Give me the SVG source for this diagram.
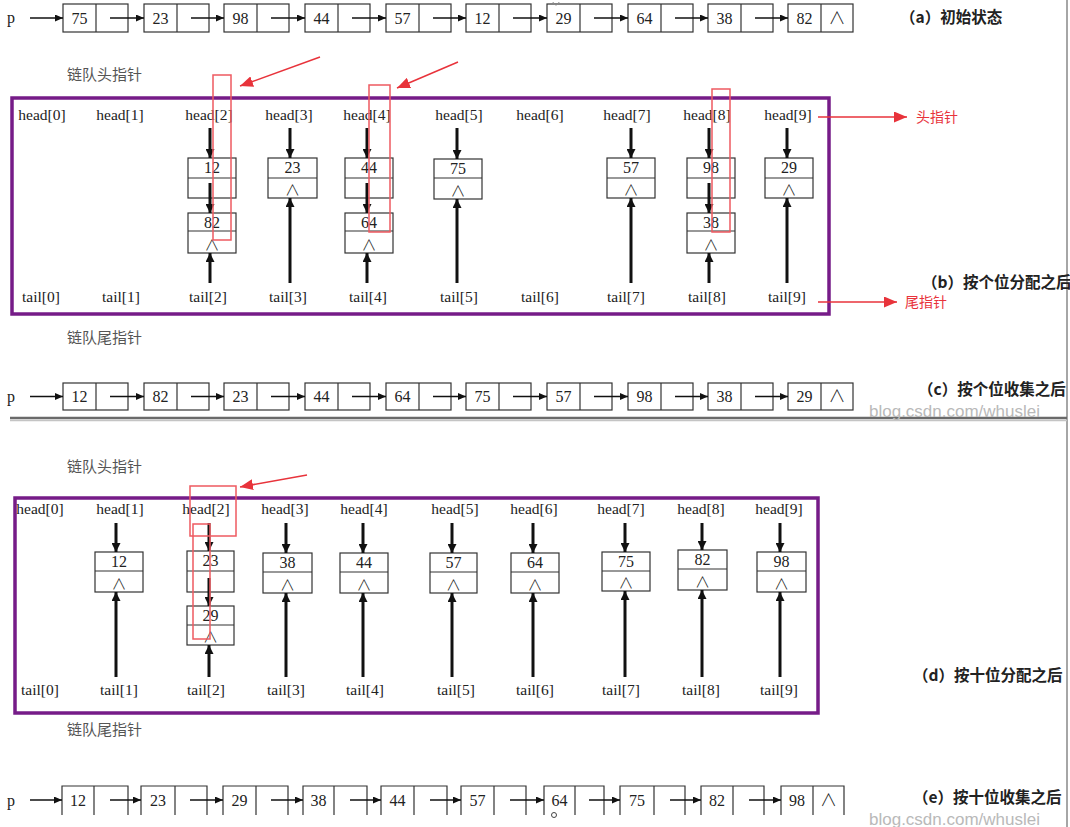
<svg xmlns="http://www.w3.org/2000/svg" width="1070" height="827" viewBox="0 0 1070 827">
<defs>
<style>
.bx{fill:none;stroke:#333;stroke-width:1.2}
.num{font-family:'Liberation Serif','Noto Sans CJK SC',serif;font-size:16px;fill:#222;text-anchor:middle}
.nil{font-family:'Noto Sans CJK SC','DejaVu Sans',sans-serif;font-size:15px;font-weight:300;fill:#222;text-anchor:middle}
.nilr{font-family:'Noto Sans CJK SC','DejaVu Sans',sans-serif;font-size:17px;font-weight:300;fill:#222;text-anchor:middle}
.lbl{font-family:'Liberation Serif','Noto Sans CJK SC',serif;font-size:15.5px;fill:#222;text-anchor:middle}
.cn{font-family:'Noto Sans CJK SC',sans-serif;font-size:15px;fill:#555}
.cap{font-family:'Noto Sans CJK SC',sans-serif;font-size:15.5px;font-weight:bold;fill:#222}
.red{font-family:'Noto Sans CJK SC',sans-serif;font-size:14px;fill:#e8333b}
.wm{font-family:'Liberation Sans','DejaVu Sans',sans-serif;font-size:17px;fill:#b9b9b9}
.ra{stroke:#111;stroke-width:1.5;fill:none;marker-end:url(#ah)}
.ta{stroke:#111;stroke-width:3;fill:none;marker-end:url(#ahb)}
.rr{fill:none;stroke:#ee5a60;stroke-width:1.5}
.rl{stroke:#e8333b;stroke-width:1.5;fill:none;marker-end:url(#ahr)}
.pur{fill:none;stroke:#761c88;stroke-width:3.5}
</style>
<marker id="ah" markerWidth="8" markerHeight="7" refX="8" refY="3.5" orient="auto" markerUnits="userSpaceOnUse"><path d="M0,0 L8,3.5 L0,7 z" fill="#111"/></marker>
<marker id="ahb" markerWidth="9" markerHeight="9" refX="9" refY="4.5" orient="auto" markerUnits="userSpaceOnUse"><path d="M0,0 L9,4.5 L0,9 z" fill="#111"/></marker>
<marker id="ahr" markerWidth="13" markerHeight="11" refX="13" refY="5.5" orient="auto" markerUnits="userSpaceOnUse"><path d="M0,0 L13,5.5 L0,11 z" fill="#e8333b"/></marker>
</defs>
<rect width="1070" height="827" fill="#fff"/>

<!-- frame lines -->
<line x1="1067" y1="0" x2="1067" y2="827" stroke="#888" stroke-width="1.5"/>
<line x1="10" y1="418" x2="1067" y2="418" stroke="#6a6a6a" stroke-width="2.5"/>
<line x1="10" y1="420.5" x2="1067" y2="420.5" stroke="#c4c4c4" stroke-width="1.5"/>

<!-- Row (a) -->
<g id="row-a">
<text class="num" x="11" y="23">p</text>
<g class="bx">
<rect x="63" y="4" width="65" height="28"/><line x1="96" y1="4" x2="96" y2="32"/>
<rect x="144" y="4" width="65" height="28"/><line x1="177" y1="4" x2="177" y2="32"/>
<rect x="224" y="4" width="65" height="28"/><line x1="257" y1="4" x2="257" y2="32"/>
<rect x="305" y="4" width="65" height="28"/><line x1="338" y1="4" x2="338" y2="32"/>
<rect x="386" y="4" width="65" height="28"/><line x1="419" y1="4" x2="419" y2="32"/>
<rect x="466" y="4" width="65" height="28"/><line x1="499" y1="4" x2="499" y2="32"/>
<rect x="547" y="4" width="65" height="28"/><line x1="580" y1="4" x2="580" y2="32"/>
<rect x="628" y="4" width="65" height="28"/><line x1="661" y1="4" x2="661" y2="32"/>
<rect x="708" y="4" width="65" height="28"/><line x1="741" y1="4" x2="741" y2="32"/>
<rect x="788" y="4" width="65" height="28"/><line x1="821" y1="4" x2="821" y2="32"/>
</g>
<text class="num" x="79.5" y="24">75</text>
<text class="num" x="160.5" y="24">23</text>
<text class="num" x="240.5" y="24">98</text>
<text class="num" x="321.5" y="24">44</text>
<text class="num" x="402.5" y="24">57</text>
<text class="num" x="482.5" y="24">12</text>
<text class="num" x="563.5" y="24">29</text>
<text class="num" x="644.5" y="24">64</text>
<text class="num" x="724.5" y="24">38</text>
<text class="num" x="804.5" y="24">82</text>
<text class="nilr" x="837" y="24">∧</text>
<path d="M553,2 a3,3 0 0 0 6,0" fill="none" stroke="#888" stroke-width="1"/>
<text class="cap" x="900" y="23">（a）初始状态</text>
</g>

<!-- Row (c) -->
<g id="row-c">
<text class="num" x="11" y="402">p</text>
<g class="bx">
<rect x="63" y="383" width="65" height="27"/><line x1="96" y1="383" x2="96" y2="410"/>
<rect x="144" y="383" width="65" height="27"/><line x1="177" y1="383" x2="177" y2="410"/>
<rect x="224" y="383" width="65" height="27"/><line x1="257" y1="383" x2="257" y2="410"/>
<rect x="305" y="383" width="65" height="27"/><line x1="338" y1="383" x2="338" y2="410"/>
<rect x="386" y="383" width="65" height="27"/><line x1="419" y1="383" x2="419" y2="410"/>
<rect x="466" y="383" width="65" height="27"/><line x1="499" y1="383" x2="499" y2="410"/>
<rect x="547" y="383" width="65" height="27"/><line x1="580" y1="383" x2="580" y2="410"/>
<rect x="628" y="383" width="65" height="27"/><line x1="661" y1="383" x2="661" y2="410"/>
<rect x="708" y="383" width="65" height="27"/><line x1="741" y1="383" x2="741" y2="410"/>
<rect x="788" y="383" width="65" height="27"/><line x1="821" y1="383" x2="821" y2="410"/>
</g>
<text class="num" x="79.5" y="402">12</text>
<text class="num" x="160.5" y="402">82</text>
<text class="num" x="240.5" y="402">23</text>
<text class="num" x="321.5" y="402">44</text>
<text class="num" x="402.5" y="402">64</text>
<text class="num" x="482.5" y="402">75</text>
<text class="num" x="563.5" y="402">57</text>
<text class="num" x="644.5" y="402">98</text>
<text class="num" x="724.5" y="402">38</text>
<text class="num" x="804.5" y="402">29</text>
<text class="nilr" x="837" y="402">∧</text>
<text class="cap" x="918" y="395">（c）按个位收集之后</text>
<text class="wm" x="869" y="417">blog.csdn.com/whuslei</text>
</g>

<!-- Row (e) -->
<g id="row-e">
<text class="num" x="11" y="806">p</text>
<path class="bx" d="M62,815V786H128V815M94,786V815 M141,815V786H207V815M175,786V815 M223,815V786H288V815M256,786V815 M303,815V786H367V815M334,786V815 M381,815V786H447V815M414,786V815 M461,815V786H526V815M494,786V815 M544,815V786H604V815M575,786V815 M620,815V786H685V815M654,786V815 M701,815V786H764V815M733,786V815 M781,815V786H844V815M813,786V815"/>
<text class="num" x="78" y="806">12</text>
<text class="num" x="158" y="806">23</text>
<text class="num" x="239.5" y="806">29</text>
<text class="num" x="318.5" y="806">38</text>
<text class="num" x="397.5" y="806">44</text>
<text class="num" x="477.5" y="806">57</text>
<text class="num" x="559.5" y="806">64</text>
<text class="num" x="637" y="806">75</text>
<text class="num" x="717" y="806">82</text>
<text class="num" x="797" y="806">98</text>
<text class="nilr" x="828.5" y="806">∧</text>
<circle cx="554" cy="815" r="2.5" fill="none" stroke="#444" stroke-width="1"/>
<text class="cap" x="913" y="803">（e）按十位收集之后</text>
<text class="wm" x="869" y="825">blog.csdn.com/whuslei</text>
</g>

<!-- Section (b) -->
<g id="section-b">
<rect class="pur" x="12" y="98" width="817" height="216"/>
<text class="cn" x="67" y="80">链队头指针</text>
<text class="cn" x="67" y="343">链队尾指针</text>
<g id="b-heads">
<text class="lbl" x="42" y="120">head[0]</text>
<text class="lbl" x="120" y="120">head[1]</text>
<text class="lbl" x="209" y="120">head[2]</text>
<text class="lbl" x="289" y="120">head[3]</text>
<text class="lbl" x="367" y="120">head[4]</text>
<text class="lbl" x="459" y="120">head[5]</text>
<text class="lbl" x="540" y="120">head[6]</text>
<text class="lbl" x="627" y="120">head[7]</text>
<text class="lbl" x="707" y="120">head[8]</text>
<text class="lbl" x="788" y="120">head[9]</text>
</g>
<g id="b-tails">
<text class="lbl" x="41" y="302">tail[0]</text>
<text class="lbl" x="121" y="302">tail[1]</text>
<text class="lbl" x="208" y="302">tail[2]</text>
<text class="lbl" x="288" y="302">tail[3]</text>
<text class="lbl" x="368" y="302">tail[4]</text>
<text class="lbl" x="459" y="302">tail[5]</text>
<text class="lbl" x="540" y="302">tail[6]</text>
<text class="lbl" x="626" y="302">tail[7]</text>
<text class="lbl" x="707" y="302">tail[8]</text>
<text class="lbl" x="787" y="302">tail[9]</text>
</g>
<g id="b-n12"><rect class="bx" x="188" y="158" width="48" height="40"/><line class="bx" x1="188" y1="178" x2="236" y2="178"/><text class="num" x="212" y="173">12</text></g>
<g id="b-n82"><rect class="bx" x="188" y="213" width="48" height="40"/><line class="bx" x1="188" y1="231" x2="236" y2="231"/><text class="num" x="212" y="228">82</text><text class="nil" x="212" y="250">∧</text></g>
<g id="b-n23"><rect class="bx" x="268" y="158" width="49" height="40"/><line class="bx" x1="268" y1="178" x2="317" y2="178"/><text class="num" x="292.5" y="173">23</text><text class="nil" x="292.5" y="195">∧</text></g>
<g id="b-n44"><rect class="bx" x="345" y="158" width="48" height="40"/><line class="bx" x1="345" y1="178" x2="393" y2="178"/><text class="num" x="369" y="173">44</text></g>
<g id="b-n64"><rect class="bx" x="345" y="213" width="48" height="40"/><line class="bx" x1="345" y1="231" x2="393" y2="231"/><text class="num" x="369" y="228">64</text><text class="nil" x="369" y="250">∧</text></g>
<g id="b-n75"><rect class="bx" x="434" y="159" width="48" height="40"/><line class="bx" x1="434" y1="178" x2="482" y2="178"/><text class="num" x="458" y="174">75</text><text class="nil" x="458" y="196">∧</text></g>
<g id="b-n57"><rect class="bx" x="607" y="158" width="48" height="40"/><line class="bx" x1="607" y1="178" x2="655" y2="178"/><text class="num" x="631" y="173">57</text><text class="nil" x="631" y="195">∧</text></g>
<g id="b-n98"><rect class="bx" x="687" y="158" width="48" height="40"/><line class="bx" x1="687" y1="178" x2="735" y2="178"/><text class="num" x="711" y="173">98</text></g>
<g id="b-n38"><rect class="bx" x="687" y="213" width="48" height="40"/><line class="bx" x1="687" y1="231" x2="735" y2="231"/><text class="num" x="711" y="228">38</text><text class="nil" x="711" y="250">∧</text></g>
<g id="b-n29"><rect class="bx" x="765" y="158" width="48" height="40"/><line class="bx" x1="765" y1="178" x2="813" y2="178"/><text class="num" x="789" y="173">29</text><text class="nil" x="789" y="195">∧</text></g>
<text class="cap" x="922" y="288">（b）按个位分配之后</text>
</g>

<!-- Section (d) -->
<g id="section-d">
<rect class="pur" x="15" y="498" width="803" height="215"/>
<text class="cn" x="67" y="472">链队头指针</text>
<text class="cn" x="67" y="735">链队尾指针</text>
<g id="d-heads">
<text class="lbl" x="40" y="514">head[0]</text>
<text class="lbl" x="120" y="514">head[1]</text>
<text class="lbl" x="206" y="514">head[2]</text>
<text class="lbl" x="285" y="514">head[3]</text>
<text class="lbl" x="364" y="514">head[4]</text>
<text class="lbl" x="455" y="514">head[5]</text>
<text class="lbl" x="534" y="514">head[6]</text>
<text class="lbl" x="621" y="514">head[7]</text>
<text class="lbl" x="701" y="514">head[8]</text>
<text class="lbl" x="779" y="514">head[9]</text>
</g>
<g id="d-tails">
<text class="lbl" x="40" y="695">tail[0]</text>
<text class="lbl" x="119" y="695">tail[1]</text>
<text class="lbl" x="206" y="695">tail[2]</text>
<text class="lbl" x="286" y="695">tail[3]</text>
<text class="lbl" x="365" y="695">tail[4]</text>
<text class="lbl" x="456" y="695">tail[5]</text>
<text class="lbl" x="535" y="695">tail[6]</text>
<text class="lbl" x="621" y="695">tail[7]</text>
<text class="lbl" x="701" y="695">tail[8]</text>
<text class="lbl" x="779" y="695">tail[9]</text>
</g>
<g id="d-n12"><rect class="bx" x="95" y="552" width="48" height="40"/><line class="bx" x1="95" y1="571" x2="143" y2="571"/><text class="num" x="119" y="567">12</text><text class="nil" x="119" y="589">∧</text></g>
<g id="d-n23"><rect class="bx" x="187" y="551" width="47" height="41"/><line class="bx" x1="187" y1="571" x2="234" y2="571"/><text class="num" x="210.5" y="566">23</text></g>
<g id="d-n29"><rect class="bx" x="187" y="606" width="47" height="39"/><line class="bx" x1="187" y1="625" x2="234" y2="625"/><text class="num" x="210.5" y="621">29</text><text class="nil" x="210.5" y="642">∧</text></g>
<g id="d-n38"><rect class="bx" x="263" y="553" width="49" height="40"/><line class="bx" x1="263" y1="572" x2="312" y2="572"/><text class="num" x="287.5" y="568">38</text><text class="nil" x="287.5" y="590">∧</text></g>
<g id="d-n44"><rect class="bx" x="340" y="553" width="48" height="40"/><line class="bx" x1="340" y1="572" x2="388" y2="572"/><text class="num" x="364" y="568">44</text><text class="nil" x="364" y="590">∧</text></g>
<g id="d-n57"><rect class="bx" x="430" y="553" width="47" height="40"/><line class="bx" x1="430" y1="572" x2="477" y2="572"/><text class="num" x="453.5" y="568">57</text><text class="nil" x="453.5" y="590">∧</text></g>
<g id="d-n64"><rect class="bx" x="511" y="553" width="48" height="40"/><line class="bx" x1="511" y1="572" x2="559" y2="572"/><text class="num" x="535" y="568">64</text><text class="nil" x="535" y="590">∧</text></g>
<g id="d-n75"><rect class="bx" x="602" y="552" width="48" height="39"/><line class="bx" x1="602" y1="571" x2="650" y2="571"/><text class="num" x="626" y="567">75</text><text class="nil" x="626" y="588">∧</text></g>
<g id="d-n82"><rect class="bx" x="678" y="550" width="49" height="40"/><line class="bx" x1="678" y1="569" x2="727" y2="569"/><text class="num" x="702.5" y="565">82</text><text class="nil" x="702.5" y="587">∧</text></g>
<g id="d-n98"><rect class="bx" x="757" y="552" width="49" height="40"/><line class="bx" x1="757" y1="571" x2="806" y2="571"/><text class="num" x="781.5" y="567">98</text><text class="nil" x="781.5" y="589">∧</text></g>
<text class="cap" x="913" y="681">（d）按十位分配之后</text>
</g>

<!-- Connectors -->
<g id="connectors">
<g id="row-a-links">
<line class="ra" x1="30" y1="18" x2="63" y2="18"/>
<line class="ra" x1="110" y1="18" x2="144" y2="18"/>
<line class="ra" x1="191" y1="18" x2="224" y2="18"/>
<line class="ra" x1="271" y1="18" x2="305" y2="18"/>
<line class="ra" x1="352" y1="18" x2="386" y2="18"/>
<line class="ra" x1="433" y1="18" x2="466" y2="18"/>
<line class="ra" x1="513" y1="18" x2="547" y2="18"/>
<line class="ra" x1="594" y1="18" x2="628" y2="18"/>
<line class="ra" x1="675" y1="18" x2="708" y2="18"/>
<line class="ra" x1="755" y1="18" x2="788" y2="18"/>
</g>
<g id="row-c-links">
<line class="ra" x1="30" y1="396.5" x2="63" y2="396.5"/>
<line class="ra" x1="110" y1="396.5" x2="144" y2="396.5"/>
<line class="ra" x1="191" y1="396.5" x2="224" y2="396.5"/>
<line class="ra" x1="271" y1="396.5" x2="305" y2="396.5"/>
<line class="ra" x1="352" y1="396.5" x2="386" y2="396.5"/>
<line class="ra" x1="433" y1="396.5" x2="466" y2="396.5"/>
<line class="ra" x1="513" y1="396.5" x2="547" y2="396.5"/>
<line class="ra" x1="594" y1="396.5" x2="628" y2="396.5"/>
<line class="ra" x1="675" y1="396.5" x2="708" y2="396.5"/>
<line class="ra" x1="755" y1="396.5" x2="788" y2="396.5"/>
</g>
<g id="row-e-links">
<line class="ra" x1="30" y1="800" x2="62" y2="800"/>
<line class="ra" x1="110" y1="800" x2="141" y2="800"/>
<line class="ra" x1="190" y1="800" x2="223" y2="800"/>
<line class="ra" x1="271" y1="800" x2="303" y2="800"/>
<line class="ra" x1="350" y1="800" x2="381" y2="800"/>
<line class="ra" x1="430" y1="800" x2="461" y2="800"/>
<line class="ra" x1="510" y1="800" x2="544" y2="800"/>
<line class="ra" x1="589" y1="800" x2="620" y2="800"/>
<line class="ra" x1="670" y1="800" x2="701" y2="800"/>
<line class="ra" x1="749" y1="800" x2="781" y2="800"/>
</g>
<g id="b-links">
<line class="ta" x1="210" y1="128" x2="210" y2="158"/>
<line class="ta" x1="210" y1="183" x2="210" y2="213"/>
<line class="ta" x1="210" y1="283" x2="210" y2="253"/>
<line class="ta" x1="290" y1="128" x2="290" y2="158"/>
<line class="ta" x1="290" y1="283" x2="290" y2="198"/>
<line class="ta" x1="367" y1="128" x2="367" y2="158"/>
<line class="ta" x1="367" y1="183" x2="367" y2="213"/>
<line class="ta" x1="367" y1="283" x2="367" y2="253"/>
<line class="ta" x1="457" y1="128" x2="457" y2="159"/>
<line class="ta" x1="457" y1="283" x2="457" y2="199"/>
<line class="ta" x1="631" y1="128" x2="631" y2="158"/>
<line class="ta" x1="631" y1="283" x2="631" y2="198"/>
<line class="ta" x1="709" y1="128" x2="709" y2="158"/>
<line class="ta" x1="709" y1="183" x2="709" y2="213"/>
<line class="ta" x1="709" y1="283" x2="709" y2="253"/>
<line class="ta" x1="787" y1="128" x2="787" y2="158"/>
<line class="ta" x1="787" y1="283" x2="787" y2="198"/>
</g>
<g id="d-links">
<line class="ta" x1="116" y1="523" x2="116" y2="552"/>
<line class="ta" x1="116" y1="677" x2="116" y2="592"/>
<line class="ta" x1="209" y1="523" x2="209" y2="551"/>
<line class="ta" x1="209" y1="578" x2="209" y2="606"/>
<line class="ta" x1="209" y1="677" x2="209" y2="645"/>
<line class="ta" x1="286" y1="523" x2="286" y2="553"/>
<line class="ta" x1="286" y1="677" x2="286" y2="593"/>
<line class="ta" x1="363" y1="523" x2="363" y2="553"/>
<line class="ta" x1="363" y1="677" x2="363" y2="593"/>
<line class="ta" x1="452" y1="523" x2="452" y2="553"/>
<line class="ta" x1="452" y1="677" x2="452" y2="593"/>
<line class="ta" x1="533" y1="523" x2="533" y2="553"/>
<line class="ta" x1="533" y1="677" x2="533" y2="593"/>
<line class="ta" x1="625" y1="523" x2="625" y2="552"/>
<line class="ta" x1="625" y1="677" x2="625" y2="591"/>
<line class="ta" x1="702" y1="523" x2="702" y2="550"/>
<line class="ta" x1="702" y1="677" x2="702" y2="590"/>
<line class="ta" x1="780" y1="523" x2="780" y2="552"/>
<line class="ta" x1="780" y1="677" x2="780" y2="592"/>
</g>
</g>

<!-- Red annotations -->
<g id="annotations">
<rect class="rr" x="213" y="75" width="18" height="165"/>
<rect class="rr" x="369" y="85" width="21" height="147"/>
<rect class="rr" x="712" y="89" width="18" height="143"/>
<line class="rl" x1="320" y1="57" x2="240" y2="86"/>
<line class="rl" x1="458" y1="62" x2="397" y2="88"/>
<line class="rl" x1="818" y1="117" x2="907" y2="117"/>
<text class="red" x="916" y="122">头指针</text>
<line class="rl" x1="818" y1="302" x2="897" y2="302"/>
<text class="red" x="905" y="307">尾指针</text>
<rect class="rr" x="190" y="486" width="46" height="50"/>
<rect class="rr" x="193" y="524" width="17" height="115"/>
<line class="rl" x1="307" y1="475" x2="240" y2="487"/>
</g>
</svg>
